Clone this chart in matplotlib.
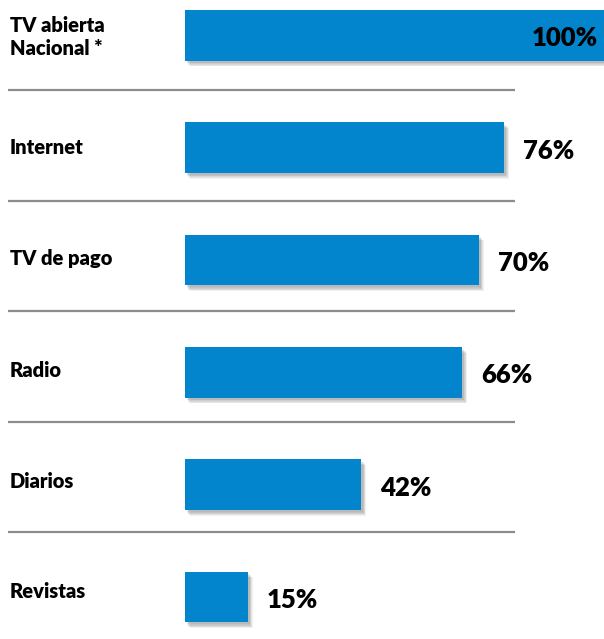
#!/usr/bin/env python3
"""Horizontal bar chart: media reach per channel."""

import matplotlib
matplotlib.use('Agg')
import matplotlib.pyplot as plt
import numpy as np

plt.rcParams['font.family'] = ['Lato', 'DejaVu Sans']

# Data
CATEGORIES = ['TV abierta\nNacional *', 'Internet', 'TV de pago', 'Radio', 'Diarios', 'Revistas']
VALUES = [100, 76, 70, 66, 42, 15]
VALUE_LABELS = ['100%', '76%', '70%', '66%', '42%', '15%']

BAR_COLOR = '#0385CD'
LINE_COLOR = '#8C8C8C'

# Layout (pixel scale: 4.2 px per %, 112.35 px per row)
PX_X = 4.2
PX_Y = 112.35
X0_PX = 185
Y0_PX = 35.25
W_PX, H_PX = 604, 639


def main():
    fig = plt.figure(figsize=(W_PX / 100, H_PX / 100), dpi=100)
    ax = fig.add_axes([0, 0, 1, 1])
    ax.set_xlim(-X0_PX / PX_X, (W_PX - X0_PX) / PX_X)
    ax.set_ylim((H_PX - Y0_PX) / PX_Y, -Y0_PX / PX_Y)
    ax.axis('off')

    n = len(VALUES)
    y = np.arange(n)
    height = 50.5 / PX_Y

    # soft drop shadow
    for k in range(1, 7):
        dx = (1 + 0.6 * k) / PX_X
        dy = (1.5 + 0.7 * k) / PX_Y
        ax.barh(y + dy, VALUES, left=dx, height=height,
                color='#404040', alpha=0.07, linewidth=0, zorder=1)

    ax.barh(y, VALUES, height=height, color=BAR_COLOR, linewidth=0, zorder=3)

    # separators
    sep_y = (90 + 110.5 * np.arange(n - 1) - Y0_PX) / PX_Y
    ax.hlines(sep_y, (8 - X0_PX) / PX_X, (515 - X0_PX) / PX_X,
              color=LINE_COLOR, linewidth=1.6, zorder=2)

    # category labels
    label_y = (37 + 111 * np.arange(n) - Y0_PX) / PX_Y
    for ly, cat in zip(label_y, CATEGORIES):
        ax.text((10 - X0_PX) / PX_X, ly, cat, ha='left', va='center',
                fontsize=14.5, fontweight='heavy', color='#000000',
                linespacing=1.25, zorder=4)

    # value labels
    for yi, v, lab in zip(y, VALUES, VALUE_LABELS):
        if v >= 100:
            ax.text(v - 7 / PX_X, yi + 3 / PX_Y, lab, ha='right', va='center',
                    fontsize=18.5, fontweight='heavy', color='#000000', zorder=4)
        else:
            ax.text(v + 19 / PX_X, yi + 3 / PX_Y, lab, ha='left', va='center',
                    fontsize=18.5, fontweight='heavy', color='#000000', zorder=4)

    fig.savefig('out.png', dpi=100, facecolor='white')
    plt.close(fig)


if __name__ == '__main__':
    main()
